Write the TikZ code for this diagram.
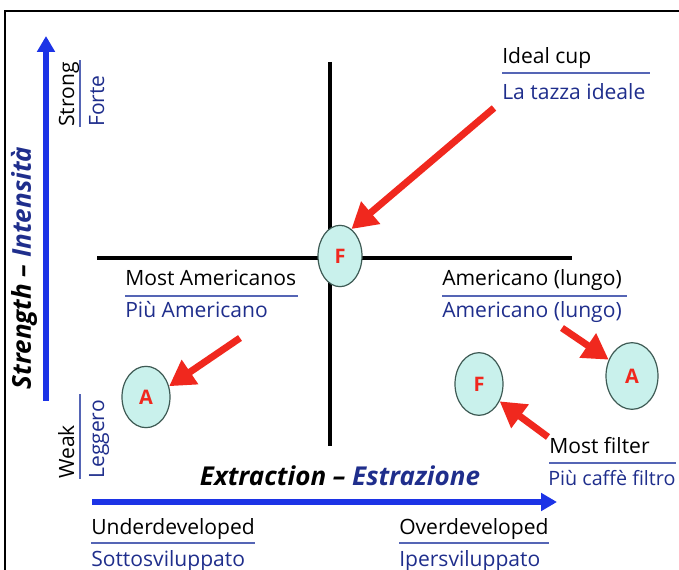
\documentclass[tikz,border=0pt]{standalone}
\usepackage{fontspec}
\setmainfont{Open Sans}
\usetikzlibrary{arrows.meta,shapes.geometric}
\definecolor{navy}{HTML}{1F2E8C}
\definecolor{axisblue}{HTML}{1C33E6}
\definecolor{redarr}{HTML}{F0281E}
\definecolor{cellfill}{HTML}{C9F1EC}
\definecolor{cellline}{HTML}{3E5A54}
\definecolor{sepline}{HTML}{5565B5}
\tikzset{
  en/.style={anchor=base west, inner sep=0pt, font=\fontsize{15.8}{17}\selectfont, text=black},
  it/.style={anchor=base west, inner sep=0pt, font=\fontsize{15.8}{17}\selectfont, text=navy},
  sep/.style={draw=sepline, line width=0.9pt},
  ell/.style={ellipse, draw=cellline, line width=0.9pt, fill=cellfill, inner sep=0pt,
    font=\bfseries\fontsize{15}{16}\selectfont, text=redarr},
  redarrow/.style={draw=redarr, line width=5.2pt, -{Triangle[length=19pt,width=21pt]}},
  bluearrow/.style={draw=axisblue, line width=3.8pt, -{Triangle[length=12pt,width=13pt]}},
  cross/.style={draw=black, line width=2.4pt},
  axislabel/.style={inner sep=0pt, font=\bfseries\itshape\fontsize{19.5}{21}\selectfont}
}
\begin{document}
\begin{tikzpicture}[x=0.75pt,y=-0.75pt]
\useasboundingbox (0,0) rectangle (679,570);
% frame
\draw[line width=1.2pt] (5,572) -- (5,11) -- (681,11);
% axes
\coordinate (vs) at (46,401);
\coordinate (ve) at (46,36);
\draw[bluearrow] (vs) -- (ve);
\coordinate (hs) at (92,502);
\coordinate (he) at (557,502);
\draw[bluearrow] (hs) -- (he);
% cross
\coordinate (ct) at (330,62);
\coordinate (cb) at (330,446);
\coordinate (cl) at (97,258);
\coordinate (cr) at (572,258);
\draw[cross] (ct) -- (cb);
\draw[cross] (cl) -- (cr);
% axis titles
\node[axislabel, rotate=90] (ylab) at (24,268) {Strength -- \textcolor{navy}{Intensità}};
\node[axislabel] (xlab) at (340,476) {Extraction -- \textcolor{navy}{Estrazione}};
% vertical labels
\node[en, rotate=90] (strong) at (74,127) {Strong};
\node[it, rotate=90] (forte) at (104,127) {Forte};
\coordinate (s1) at (80,127); \coordinate (s2) at (80,60);
\draw[sep] (s1) -- (s2);
\node[en, rotate=90] (weak) at (74,479) {Weak};
\node[it, rotate=90] (leggero) at (104,479) {Leggero};
\coordinate (w1) at (80,479); \coordinate (w2) at (80,394);
\draw[sep] (w1) -- (w2);
% ellipses
\node[ell, minimum width=33pt, minimum height=46pt] (f1) at (340,256) {F};
\node[ell, minimum width=36pt, minimum height=46pt] (a1) at (146,397) {A};
\node[ell, minimum width=39pt, minimum height=50pt] (a2) at (632,376) {A};
\node[ell, minimum width=36pt, minimum height=47pt] (f2) at (479,384) {F};
% labels
\node[en] (ideal) at (502,64) {Ideal cup};
\coordinate (i1) at (502,73); \coordinate (i2) at (650,73);
\draw[sep] (i1) -- (i2);
\node[it] (tazza) at (502,100) {La tazza ideale};

\node[en] (mostam) at (125,286) {Most Americanos};
\coordinate (m1) at (125,296); \coordinate (m2) at (298,296);
\draw[sep] (m1) -- (m2);
\node[it] (piuam) at (125,318) {Più Americano};

\node[en] (amlung) at (442,286) {Americano (lungo)};
\coordinate (l1) at (442,296); \coordinate (l2) at (627,296);
\draw[sep] (l1) -- (l2);
\node[it] (amlungit) at (442,318) {Americano (lungo)};

\node[en] (mostf) at (549,454) {Most filter};
\coordinate (mf1) at (549,463); \coordinate (mf2) at (676,463);
\draw[sep] (mf1) -- (mf2);
\node[it, font=\fontsize{14.8}{16}\selectfont] (piuf) at (548,486) {Più caffè filtro};

\node[en] (under) at (91,534) {Underdeveloped};
\coordinate (u1) at (91,543); \coordinate (u2) at (255,543);
\draw[sep] (u1) -- (u2);
\node[it] (sotto) at (91,566) {Sottosviluppato};

\node[en] (over) at (399,534) {Overdeveloped};
\coordinate (o1) at (399,543); \coordinate (o2) at (549,543);
\draw[sep] (o1) -- (o2);
\node[it] (iper) at (399,566) {Ipersviluppato};
% red arrows
\coordinate (r1) at (494,108);
\draw[redarrow] (r1) -- (f1.67);
\coordinate (r2) at (240,338);
\draw[redarrow] (r2) -- (a1.25);
\coordinate (r3) at (562,328);
\draw[redarrow] (r3) -- (a2.145);
\coordinate (r4) at (548,437);
\draw[redarrow] (r4) -- (f2.-40);
\end{tikzpicture}
\end{document}
